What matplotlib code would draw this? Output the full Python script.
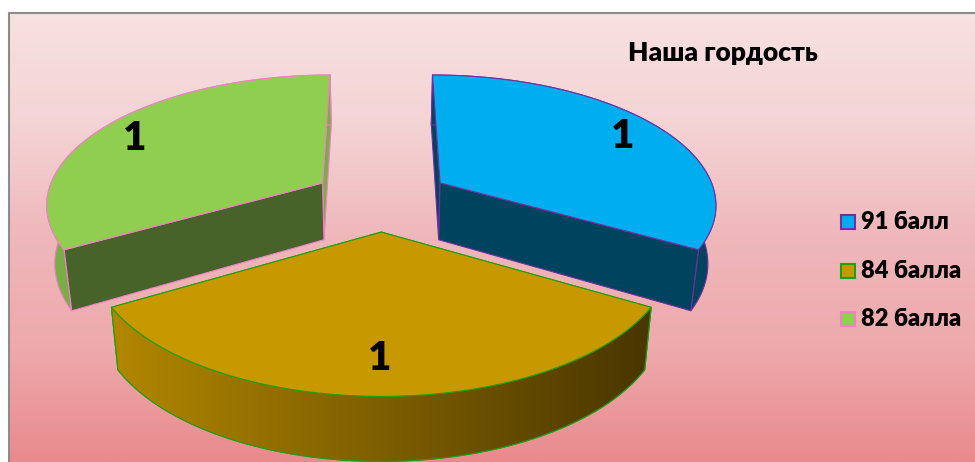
import numpy as np
import matplotlib
matplotlib.use("Agg")
import matplotlib.pyplot as plt
from matplotlib.colors import LinearSegmentedColormap
from matplotlib.patches import Polygon, Rectangle

plt.rcParams["font.family"] = ["Lato", "Noto Sans", "DejaVu Sans"]

categories = ["91 балл", "84 балла", "82 балла"]
values = [1, 1, 1]
title = "Наша гордость"

top_colors = ["#00aeef", "#c89800", "#8fce4f"]
edge_colors = ["#7030a0", "#1fa00f", "#f080c8"]
back_colors = ["#00435f", "#4d3a00", "#7aad45"]
front_colors = ["#00435f", "#4d3a00", "#48632a"]
rim_colors = [("#00435f", "#00435f"), ("#b28700", "#493600"), ("#7aad45", "#7aad45")]
label_pos = [(623, 137), (380, 358), (135, 138)]
legend_y = [222, 271, 319]

# projection of the exploded pie, fitted to the picture by hand
cx, cy = 381.3, 198.7
sx_scale, sy_scale = 276.5, 128.5
persp = 0.15
explode = 0.25


def project(x, y):
    s = 1 / (1 + persp * y)
    return cx + sx_scale * x * s, cy - sy_scale * y * s, s


def lower(px, py, s):
    # same point on the bottom face of the slab
    return cx + (px - cx) * 0.976, py + np.interp(s, [0.855, 1.06, 1.23], [50, 61, 65])


fig = plt.figure(figsize=(9.75, 4.62), dpi=100)
ax = fig.add_axes([0, 0, 1, 1])
ax.axis("off")

# chart area with its vertical gradient
bg_cmap = LinearSegmentedColormap.from_list(
    "bg", ["#f8e1e1", "#f4d3d5", "#efb7ba", "#eea9ac", "#e98a8d"]
)
grad = np.linspace(0, 1, 256).reshape(-1, 1)
ax.imshow(grad, cmap=bg_cmap, extent=(9, 975, 462, 13), aspect="auto", zorder=0)
ax.plot([9, 9, 975], [462, 13, 13], color="#8c8c8c", lw=1.5, zorder=1)

angle = 90.0
total = sum(values)
for i, v in enumerate(values):
    sweep = 360.0 * v / total
    t = np.radians(np.linspace(angle, angle - sweep, 120))
    mid = np.radians(angle - sweep / 2)
    angle -= sweep

    ox, oy = explode * np.cos(mid), explode * np.sin(mid)
    px, py, s = project(ox + np.cos(t), oy + np.sin(t))
    ax0, ay0, s0 = project(ox, oy)
    bx, by = lower(px, py, s)
    bx0, by0 = lower(ax0, ay0, s0)
    z = 2 + i * 5 if i != 1 else 20
    line = dict(edgecolor=edge_colors[i], linewidth=0.8, joinstyle="round")

    # the two cut faces, the one further back first
    ends = [0, -1] if py[0] < py[-1] else [-1, 0]
    ax.add_patch(Polygon([(px[ends[0]], py[ends[0]]), (ax0, ay0), (bx0, by0), (bx[ends[0]], by[ends[0]])],
                         facecolor=back_colors[i], zorder=z, **line))
    # on the front slice this face is hidden, it must stay under the wall
    front_z = z + 1.7 if np.sin(mid) > 0 else z
    ax.add_patch(Polygon([(px[ends[1]], py[ends[1]]), (ax0, ay0), (bx0, by0), (bx[ends[1]], by[ends[1]])],
                         facecolor=front_colors[i], zorder=front_z, **line))

    # outer wall
    wall = np.column_stack([np.r_[px, bx[::-1]], np.r_[py, by[::-1]]])
    wall_patch = Polygon(wall, facecolor=rim_colors[i][0], zorder=z + 1, **line)
    ax.add_patch(wall_patch)
    if rim_colors[i][0] != rim_colors[i][1]:
        cmap = LinearSegmentedColormap.from_list("rim", rim_colors[i])
        im = ax.imshow(np.linspace(0, 1, 256).reshape(1, -1), cmap=cmap, aspect="auto",
                       extent=(wall[:, 0].min(), wall[:, 0].max(), wall[:, 1].max(), wall[:, 1].min()),
                       zorder=z + 1.5)
        im.set_clip_path(wall_patch)
        ax.add_patch(Polygon(wall, facecolor="none", zorder=z + 1.6, **line))

    # top face
    top = np.column_stack([np.r_[ax0, px], np.r_[ay0, py]])
    ax.add_patch(Polygon(top, facecolor=top_colors[i], zorder=z + 2, **line))

    ax.text(label_pos[i][0], label_pos[i][1], str(v), fontsize=29, fontweight="heavy",
            color="black", ha="center", va="center", zorder=30)

ax.set_xlim(0, 975)
ax.set_ylim(462, 0)

ax.text(723, 53, title, fontsize=19, fontweight="heavy", color="black",
        ha="center", va="center", zorder=30)

for i, name in enumerate(categories):
    ax.add_patch(Rectangle((841, legend_y[i] - 7), 14, 14, facecolor=top_colors[i],
                           edgecolor=edge_colors[i], linewidth=1.5, zorder=30))
    ax.text(861, legend_y[i], name, fontsize=17, fontweight="heavy", color="black",
            ha="left", va="center", zorder=30)

fig.savefig("out.png", dpi=100)
